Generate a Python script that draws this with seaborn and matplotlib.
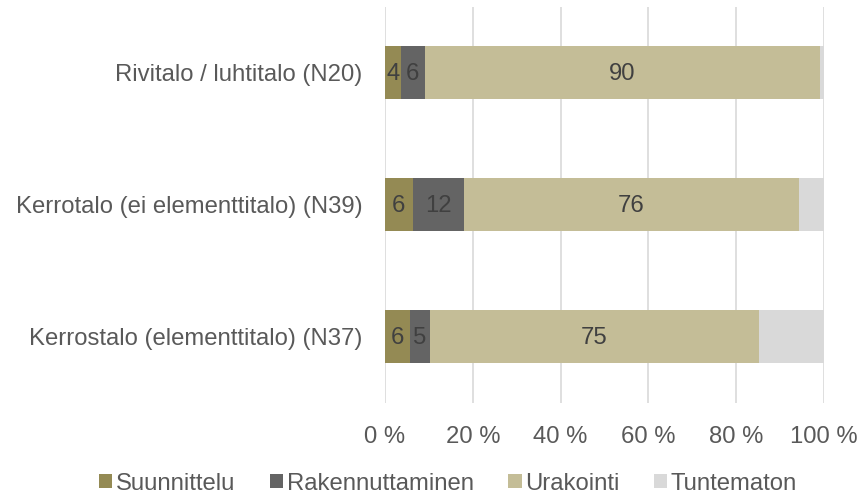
import numpy as np
import pandas as pd
import matplotlib
matplotlib.use("Agg")
import matplotlib.pyplot as plt
import seaborn as sns
from matplotlib.patches import Patch

# Data (percent shares)
categories = ["Rivitalo / luhtitalo (N20)",
              "Kerrotalo (ei elementtitalo) (N39)",
              "Kerrostalo (elementtitalo) (N37)"]
series_names = ["Suunnittelu", "Rakennuttaminen", "Urakointi", "Tuntematon"]
suunnittelu = [3.6, 6.3, 5.6]
rakennuttaminen = [5.5, 11.6, 4.7]
urakointi = [90.0, 76.4, 74.8]
tuntematon = [0.9, 5.7, 14.9]
colors = ["#948a54", "#646464", "#c4bd97", "#d9d9d9"]

sns.set_theme(style="white")
plt.rcParams['font.family'] = ['Liberation Sans', 'DejaVu Sans']

df = pd.DataFrame({"cat": categories, "Suunnittelu": suunnittelu,
                   "Rakennuttaminen": rakennuttaminen, "Urakointi": urakointi,
                   "Tuntematon": tuntematon})
cum = df[series_names].cumsum(axis=1)

fig, ax = plt.subplots(figsize=(8.62, 4.93), dpi=100)
fig.subplots_adjust(left=0.4466, right=0.956, top=0.986, bottom=0.183)

# stacked bars: draw cumulative totals from longest to shortest
for name, col in zip(series_names[::-1], colors[::-1]):
    sns.barplot(x=cum[name], y=df["cat"], color=col, orient="h",
                width=0.4, ax=ax, saturation=1, linewidth=0, zorder=3)

# segment labels (not for Tuntematon)
for i in range(len(categories)):
    for name in series_names[:3]:
        v = df.loc[i, name]
        ax.text(cum.loc[i, name] - v / 2, i + 0.01, f"{v:.0f}", ha="center", va="center",
                fontsize=17.2, color="#404040", zorder=4)

ax.set_xlim(0, 100)
ax.set_ylim(2.5, -0.5)
ax.set_xticks(np.arange(0, 101, 20))
ax.set_xticklabels([f"{t} %" for t in range(0, 101, 20)])
ax.xaxis.grid(True, color="#d9d9d9", linewidth=1.2, zorder=0)
ax.set_axisbelow(True)
for s in ax.spines.values():
    s.set_visible(False)
ax.set_xlabel("")
ax.set_ylabel("")
ax.tick_params(axis="x", labelsize=17.2, labelcolor="#595959", pad=16.5, length=0)
ax.tick_params(axis="y", labelsize=17.2, labelcolor="#595959", pad=16, length=0)

handles = [Patch(facecolor=c, edgecolor="none", label=n) for n, c in zip(series_names, colors)]
fig.legend(handles=handles, loc="lower center", bbox_to_anchor=(0.52, -0.047), ncol=4,
           frameon=False, fontsize=17.2, labelcolor="#595959", handlelength=0.55,
           handleheight=0.55, handletextpad=0.15, columnspacing=1.45)

fig.savefig("out.png", dpi=100)
